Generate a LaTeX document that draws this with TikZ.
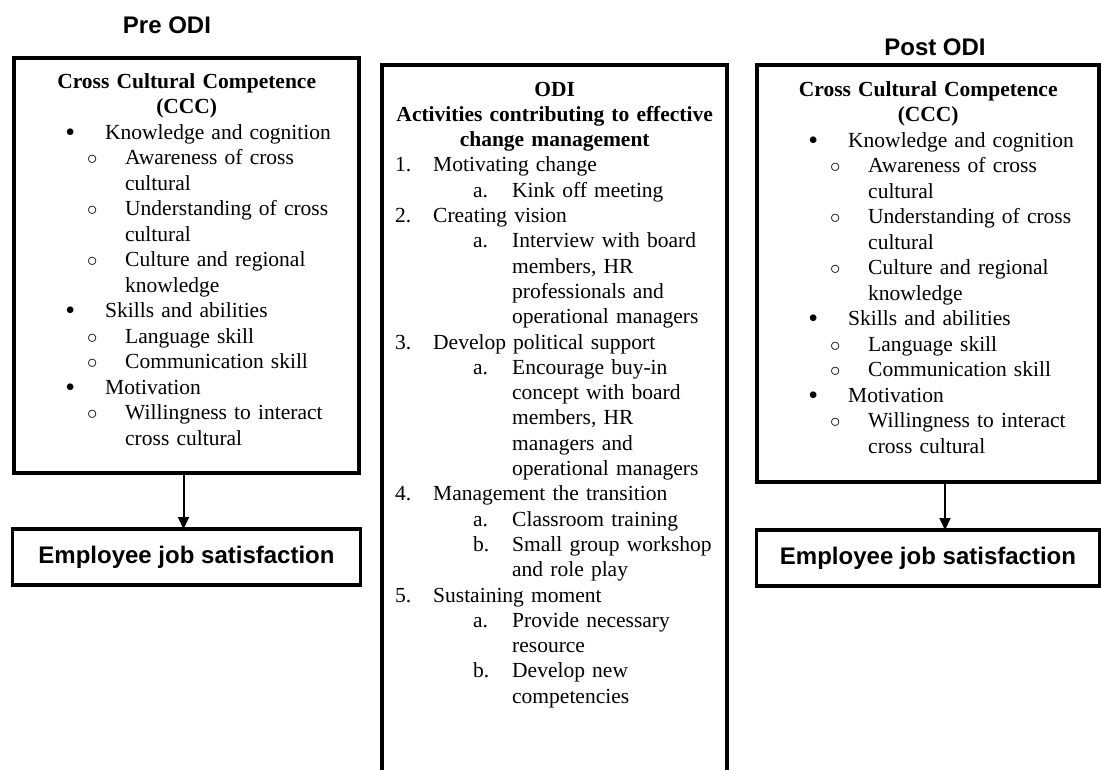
\documentclass[tikz,border=0pt]{standalone}
\usepackage{fontspec}
\setmainfont{Liberation Serif}
\newfontfamily\headfont{Liberation Sans}
\usepackage{tikz}
\usetikzlibrary{arrows.meta,positioning}

% list lines: bullets, sub-points, numbered steps
\newcommand{\cctitle}[1]{\makebox[\linewidth]{\bfseries #1}}
\newcommand{\ccmain}[1]{\hspace*{56pt}\makebox[0pt]{\raisebox{-2pt}{\scalebox{1.3}{\textbullet}}}\hspace*{35pt}#1}
\newcommand{\ccsub}[1]{\hspace*{78pt}\makebox[0pt]{$\circ$}\hspace*{33pt}#1}
\newcommand{\ccmore}[1]{\hspace*{111pt}#1}
\newcommand{\odistep}[2]{\hspace*{13pt}\makebox[38pt][l]{#1}#2}
\newcommand{\odisub}[2]{\hspace*{91pt}\makebox[39pt][l]{#1}#2}
\newcommand{\odimore}[1]{\hspace*{130pt}#1}

% competence list, same before and after
\newcommand{\ccclist}{%
  \cctitle{Cross Cultural Competence}\\
  \cctitle{(CCC)}\\
  \ccmain{Knowledge and cognition}\\
  \ccsub{Awareness of cross}\\
  \ccmore{cultural}\\
  \ccsub{Understanding of cross}\\
  \ccmore{cultural}\\
  \ccsub{Culture and regional}\\
  \ccmore{knowledge}\\
  \ccmain{Skills and abilities}\\
  \ccsub{Language skill}\\
  \ccsub{Communication skill}\\
  \ccmain{Motivation}\\
  \ccsub{Willingness to interact}\\
  \ccmore{cross cultural}}

\tikzset{
  >={Triangle[length=12pt,width=11pt]},
  ohead/.style={font=\headfont\bfseries\fontsize{24}{28}\selectfont, inner sep=0pt},
  obox/.style={draw=black, line width=3.5pt, outer sep=0pt, inner sep=0pt,
               anchor=north west},
  ojob/.style={draw=black, line width=3.5pt, outer sep=0pt, minimum height=56pt,
               font=\headfont\bfseries\fontsize{24}{28}\selectfont},
  olist/.style={anchor=base west, inner sep=0pt, align=left,
                font=\fontsize{21.5}{25.5}\selectfont},
  oarr/.style={->, line width=2pt},
}

\begin{document}
\begin{tikzpicture}[x=1pt,y=-1pt]
  \useasboundingbox (0,0) rectangle (1101,769);
  \clip (0,0) rectangle (1101,769);

  % headings
  \node[ohead] (pretitle) at (167,25) {Pre ODI};
  \node[ohead] (posttitle) at (935,47) {Post ODI};

  % before
  \node[obox, minimum width=345pt, minimum height=415pt] (prebox) at (14,58) {};
  \node[olist, text width=345pt] (pretext) at ([yshift=-30pt]prebox.north west) {\ccclist};
  \node[ojob, minimum width=348pt, below=56pt of prebox] (prejob) {Employee job satisfaction};
  \draw[oarr] ([xshift=-3pt]prebox.south) -- ([xshift=-3pt]prejob.north);

  % intervention
  \node[obox, minimum width=345pt, minimum height=740pt] (odibox) at (382,65) {};
  \node[olist, text width=345pt, font=\fontsize{21.5}{25.3}\selectfont] (oditext)
       at ([yshift=-31pt]odibox.north west) {%
    \cctitle{ODI}\\
    \cctitle{Activities contributing to effective}\\
    \cctitle{change management}\\
    \odistep{1.}{Motivating change}\\
    \odisub{a.}{Kink off meeting}\\
    \odistep{2.}{Creating vision}\\
    \odisub{a.}{Interview with board}\\
    \odimore{members, HR}\\
    \odimore{professionals and}\\
    \odimore{operational managers}\\
    \odistep{3.}{Develop political support}\\
    \odisub{a.}{Encourage buy-in}\\
    \odimore{concept with board}\\
    \odimore{members, HR}\\
    \odimore{managers and}\\
    \odimore{operational managers}\\
    \odistep{4.}{Management the transition}\\
    \odisub{a.}{Classroom training}\\
    \odisub{b.}{Small group workshop}\\
    \odimore{and role play}\\
    \odistep{5.}{Sustaining moment}\\
    \odisub{a.}{Provide necessary}\\
    \odimore{resource}\\
    \odisub{b.}{Develop new}\\
    \odimore{competencies}};

  % after
  \node[obox, minimum width=342pt, minimum height=417pt] (postbox) at (757,65) {};
  \node[olist, text width=342pt] (posttext) at ([yshift=-31pt]postbox.north west) {\ccclist};
  \node[ojob, minimum width=343pt, below=48pt of postbox] (postjob) {Employee job satisfaction};
  \draw[oarr] ([xshift=17pt]postbox.south) -- ([xshift=17pt]postjob.north);

\end{tikzpicture}
\end{document}
